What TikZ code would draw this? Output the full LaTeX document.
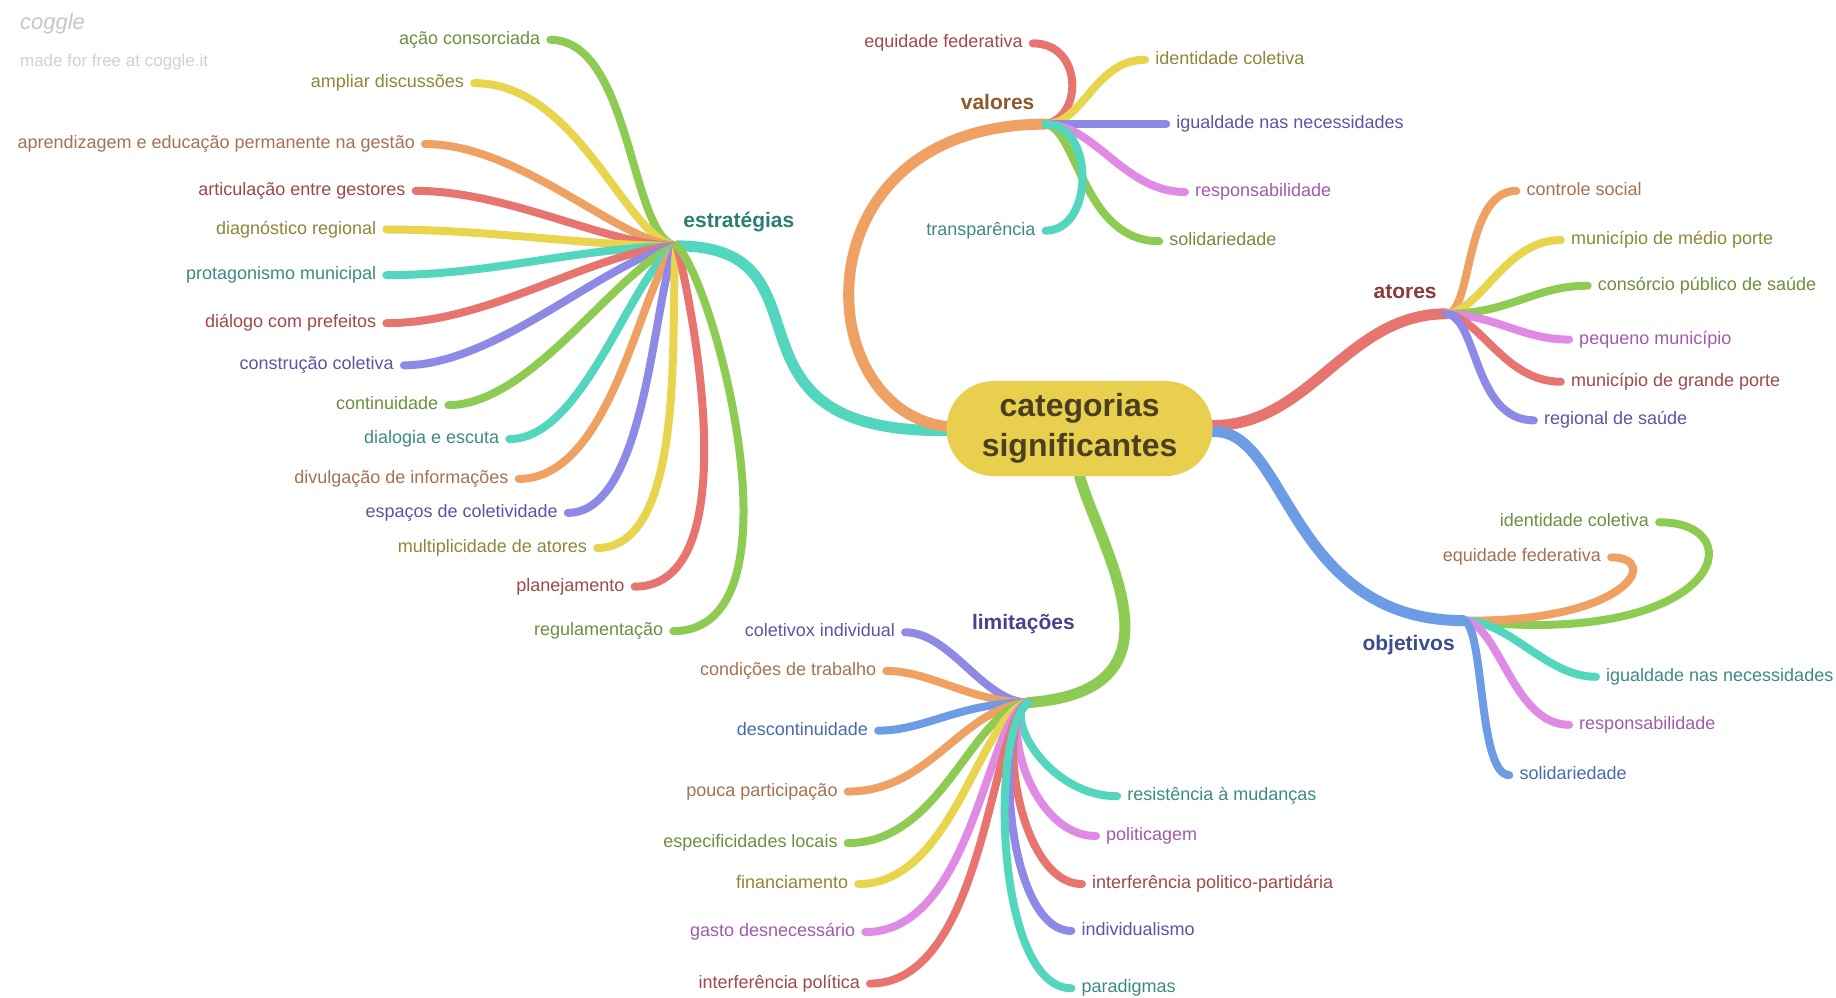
\documentclass[tikz,border=0pt]{standalone}
\usepackage{fontspec}
\setmainfont{Liberation Sans}
\definecolor{brGreen}{HTML}{8DCB52}
\definecolor{brYellow}{HTML}{E8D44D}
\definecolor{brOrange}{HTML}{EFA063}
\definecolor{brRed}{HTML}{E8746F}
\definecolor{brTeal}{HTML}{52D6BE}
\definecolor{brPurple}{HTML}{8E88E6}
\definecolor{brPink}{HTML}{DF8BE6}
\definecolor{brBlue}{HTML}{6C9CE6}
\definecolor{txGreen}{HTML}{6E8F3E}
\definecolor{txYellow}{HTML}{8F8637}
\definecolor{txOrange}{HTML}{A8714F}
\definecolor{txRed}{HTML}{A1494A}
\definecolor{txTeal}{HTML}{3B8C82}
\definecolor{txPurple}{HTML}{5A55A5}
\definecolor{txPink}{HTML}{A35AAD}
\definecolor{txBlue}{HTML}{4B6AAE}
\definecolor{hdTeal}{HTML}{2E7D73}
\definecolor{hdBrown}{HTML}{8B5A2B}
\definecolor{hdRed}{HTML}{8B3A3A}
\definecolor{hdBlue}{HTML}{3A4E8C}
\definecolor{hdPurple}{HTML}{4B3F8C}
\definecolor{cfill}{HTML}{E8CF4E}
\definecolor{ctext}{HTML}{4A4020}
\pgfdeclarelayer{back}
\pgfsetlayers{back,main}
\tikzset{
  leaf/.style={line width=8pt, line cap=round},
  mainline/.style={line width=11pt, line cap=round},
  lL/.style={anchor=east, inner xsep=10pt, inner ysep=0pt, text height=13pt, text depth=4pt, font=\fontsize{18}{20}\selectfont},
  lR/.style={anchor=west, inner xsep=10pt, inner ysep=0pt, text height=13pt, text depth=4pt, font=\fontsize{18}{20}\selectfont},
  hublabel/.style={font=\bfseries\fontsize{21}{24}\selectfont, inner sep=0pt},
  central/.style={fill=cfill, rounded corners=47pt, minimum width=266pt, minimum height=95pt, align=center, text=ctext, font=\bfseries\fontsize{32}{40}\selectfont, inner sep=0pt}
}
\begin{document}
\begin{tikzpicture}[x=1.171pt,y=-1.171pt]
\useasboundingbox (0,0) rectangle (1568,852);

% watermark
\node[anchor=west, text=black!22, font=\itshape\fontsize{22}{24}\selectfont, inner sep=0pt] (wm1) at (17,20) {coggle};
\node[anchor=west, text=black!18, font=\fontsize{17}{20}\selectfont, inner sep=0pt] (wm2) at (17,53) {made for free at coggle.it};

% central
\node[central] (c) at (922,366) {categorias\\significantes};

% hubs
\coordinate (hE) at (578,210);
\coordinate (hV) at (893,106);
\coordinate (hA) at (1235,268);
\coordinate (hO) at (1250,530);
\coordinate (hL) at (878,600);

% hub labels
\node[hublabel, text=hdTeal] (lbE) at (631,190) {estratégias};
\node[hublabel, text=hdBrown] (lbV) at (852,87) {valores};
\node[hublabel, text=hdRed] (lbA) at (1200,249) {atores};
\node[hublabel, text=hdBlue] (lbO) at (1203,551) {objetivos};
\node[hublabel, text=hdPurple] (lbL) at (874,533) {limitações};

% estrategias leaves
\node[lL, text=txGreen] (s1) at (470,34) {ação consorciada};
\node[lL, text=txYellow] (s2) at (405,71) {ampliar discussões};
\node[lL, text=txOrange] (s3) at (363,123) {aprendizagem e educação permanente na gestão};
\node[lL, text=txRed] (s4) at (355,163) {articulação entre gestores};
\node[lL, text=txYellow] (s5) at (330,196) {diagnóstico regional};
\node[lL, text=txTeal] (s6) at (330,235) {protagonismo municipal};
\node[lL, text=txRed] (s7) at (330,276) {diálogo com prefeitos};
\node[lL, text=txPurple] (s8) at (345,312) {construção coletiva};
\node[lL, text=txGreen] (s9) at (383,346) {continuidade};
\node[lL, text=txTeal] (s10) at (435,375) {dialogia e escuta};
\node[lL, text=txOrange] (s11) at (443,409) {divulgação de informações};
\node[lL, text=txPurple] (s12) at (485,438) {espaços de coletividade};
\node[lL, text=txYellow] (s13) at (510,468) {multiplicidade de atores};
\node[lL, text=txRed] (s14) at (542,501) {planejamento};
\node[lL, text=txGreen] (s15) at (575,539) {regulamentação};

% valores leaves
\node[lL, text=txRed] (v1) at (882,37) {equidade federativa};
\node[lR, text=txYellow] (v2) at (978,51) {identidade coletiva};
\node[lR, text=txPurple] (v3) at (996,106) {igualdade nas necessidades};
\node[lR, text=txPink] (v4) at (1012,164) {responsabilidade};
\node[lR, text=txGreen] (v5) at (990,206) {solidariedade};
\node[lL, text=txTeal] (v6) at (893,197) {transparência};

% atores leaves
\node[lR, text=txOrange] (a1) at (1295,163) {controle social};
\node[lR, text=txYellow] (a2) at (1333,205) {município de médio porte};
\node[lR, text=txGreen] (a3) at (1356,244) {consórcio público de saúde};
\node[lR, text=txPink] (a4) at (1340,290) {pequeno município};
\node[lR, text=txRed] (a5) at (1333,326) {município de grande porte};
\node[lR, text=txPurple] (a6) at (1310,359) {regional de saúde};

% objetivos leaves
\node[lL, text=txGreen] (o1) at (1417,446) {identidade coletiva};
\node[lL, text=txOrange] (o2) at (1376,476) {equidade federativa};
\node[lR, text=txTeal] (o3) at (1363,578) {igualdade nas necessidades};
\node[lR, text=txPink] (o4) at (1340,619) {responsabilidade};
\node[lR, text=txBlue] (o5) at (1289,662) {solidariedade};

% limitacoes leaves
\node[lL, text=txPurple] (l1) at (773,540) {coletivox individual};
\node[lL, text=txOrange] (l2) at (757,573) {condições de trabalho};
\node[lL, text=txBlue] (l3) at (750,624) {descontinuidade};
\node[lL, text=txOrange] (l4) at (724,676) {pouca participação};
\node[lL, text=txGreen] (l5) at (724,720) {especificidades locais};
\node[lL, text=txYellow] (l6) at (733,755) {financiamento};
\node[lL, text=txPink] (l7) at (739,796) {gasto desnecessário};
\node[lL, text=txRed] (l8) at (743,840) {interferência política};
\node[lR, text=txTeal] (l9) at (954,680) {resistência à mudanças};
\node[lR, text=txPink] (l10) at (936,714) {politicagem};
\node[lR, text=txRed] (l11) at (924,755) {interferência politico-partidária};
\node[lR, text=txPurple] (l12) at (915,795) {individualismo};
\node[lR, text=txTeal] (l13) at (915,844) {paradigmas};

\begin{pgfonlayer}{back}
\fill[white] (0,0) rectangle (1568,852);
% main branches
\draw[mainline, brTeal] ([yshift=-2pt]c.west) .. controls (600,370) and (720,210) .. (hE);
\draw[mainline, brOrange] ([yshift=2pt]c.west) .. controls (690,350) and (680,106) .. (hV);
\draw[mainline, brRed] ([yshift=3pt]c.east) .. controls (1120,363) and (1150,268) .. (hA);
\draw[mainline, brBlue] ([yshift=-3pt]c.east) .. controls (1100,366) and (1100,530) .. (hO);
\draw[mainline, brGreen] (c.south) .. controls (940,470) and (1020,590) .. (hL);

% estrategias
\draw[leaf, brGreen] (hE) .. controls (538,205) and (540,34) .. (s1.east);
\draw[leaf, brYellow] (hE) .. controls (535,206) and (495,71) .. (s2.east);
\draw[leaf, brOrange] (hE) .. controls (530,208) and (445,123) .. (s3.east);
\draw[leaf, brRed] (hE) .. controls (520,210) and (435,163) .. (s4.east);
\draw[leaf, brYellow] (hE) .. controls (500,210) and (420,196) .. (s5.east);
\draw[leaf, brTeal] (hE) .. controls (490,212) and (420,235) .. (s6.east);
\draw[leaf, brRed] (hE) .. controls (505,215) and (420,276) .. (s7.east);
\draw[leaf, brPurple] (hE) .. controls (520,220) and (425,312) .. (s8.east);
\draw[leaf, brGreen] (hE) .. controls (530,225) and (455,346) .. (s9.east);
\draw[leaf, brTeal] (hE) .. controls (540,230) and (500,375) .. (s10.east);
\draw[leaf, brOrange] (hE) .. controls (548,235) and (525,409) .. (s11.east);
\draw[leaf, brPurple] (hE) .. controls (558,240) and (555,438) .. (s12.east);
\draw[leaf, brYellow] (hE) .. controls (570,250) and (592,468) .. (s13.east);
\draw[leaf, brRed] (hE) .. controls (590,255) and (640,501) .. (s14.east);
\draw[leaf, brGreen] (hE) .. controls (610,240) and (690,539) .. (s15.east);

% valores
\draw[leaf, brRed] (hV) .. controls (925,100) and (925,37) .. (v1.east);
\draw[leaf, brYellow] (hV) .. controls (925,106) and (935,51) .. (v2.west);
\draw[leaf, brPurple] (hV) .. controls (930,106) and (960,106) .. (v3.west);
\draw[leaf, brPink] (hV) .. controls (935,106) and (960,164) .. (v4.west);
\draw[leaf, brGreen] (hV) .. controls (920,110) and (925,206) .. (v5.west);
\draw[leaf, brTeal] (hV) .. controls (935,106) and (935,197) .. (v6.east);

% atores
\draw[leaf, brOrange] (hA) .. controls (1258,268) and (1250,163) .. (a1.west);
\draw[leaf, brYellow] (hA) .. controls (1265,266) and (1285,205) .. (a2.west);
\draw[leaf, brGreen] (hA) .. controls (1290,268) and (1310,244) .. (a3.west);
\draw[leaf, brPink] (hA) .. controls (1280,270) and (1300,290) .. (a4.west);
\draw[leaf, brRed] (hA) .. controls (1265,272) and (1285,326) .. (a5.west);
\draw[leaf, brPurple] (hA) .. controls (1262,270) and (1258,359) .. (a6.west);

% objetivos
\draw[leaf, brGreen] (hO) .. controls (1470,555) and (1500,446) .. (o1.east);
\draw[leaf, brOrange] (hO) .. controls (1390,532) and (1420,476) .. (o2.east);
\draw[leaf, brTeal] (hO) .. controls (1290,530) and (1320,578) .. (o3.west);
\draw[leaf, brPink] (hO) .. controls (1280,532) and (1292,619) .. (o4.west);
\draw[leaf, brBlue] (hO) .. controls (1268,535) and (1262,662) .. (o5.west);

% limitacoes
\draw[leaf, brPurple] (hL) .. controls (840,600) and (812,540) .. (l1.east);
\draw[leaf, brOrange] (hL) .. controls (830,600) and (795,573) .. (l2.east);
\draw[leaf, brBlue] (hL) .. controls (820,600) and (790,624) .. (l3.east);
\draw[leaf, brOrange] (hL) .. controls (820,605) and (795,676) .. (l4.east);
\draw[leaf, brGreen] (hL) .. controls (830,606) and (805,720) .. (l5.east);
\draw[leaf, brYellow] (hL) .. controls (836,610) and (815,755) .. (l6.east);
\draw[leaf, brPink] (hL) .. controls (842,612) and (832,796) .. (l7.east);
\draw[leaf, brRed] (hL) .. controls (846,615) and (842,840) .. (l8.east);
\draw[leaf, brTeal] (hL) .. controls (856,610) and (895,680) .. (l9.west);
\draw[leaf, brPink] (hL) .. controls (853,612) and (880,714) .. (l10.west);
\draw[leaf, brRed] (hL) .. controls (850,615) and (870,755) .. (l11.west);
\draw[leaf, brPurple] (hL) .. controls (848,620) and (860,795) .. (l12.west);
\draw[leaf, brTeal] (hL) .. controls (845,625) and (850,844) .. (l13.west);
\end{pgfonlayer}
\end{tikzpicture}
\end{document}
